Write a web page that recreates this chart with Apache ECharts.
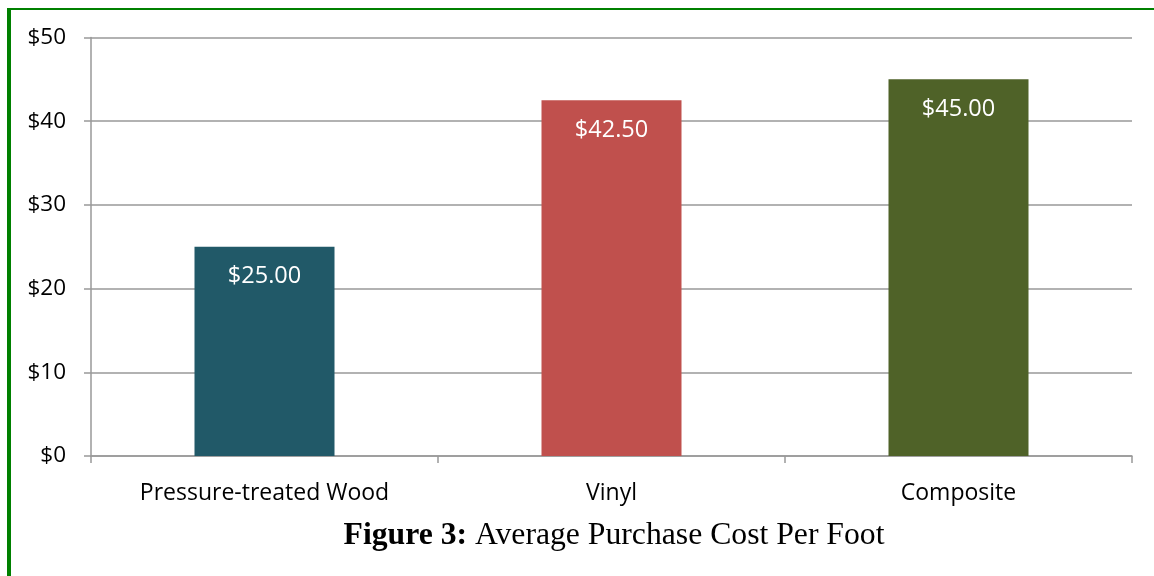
<!DOCTYPE html>
<html>
<head>
<meta charset="utf-8">
<script src="https://cdn.jsdelivr.net/npm/echarts@6/dist/echarts.min.js"></script>
<style>
  html, body { margin: 0; padding: 0; background: #fff; }
  #chart { width: 1154px; height: 576px; }
</style>
</head>
<body>
<div id="chart"></div>
<script>
const categories = ['Pressure-treated Wood', 'Vinyl', 'Composite']
const costs = [25, 42.5, 45]
const barColors = ['#215968', '#C0504D', '#4F6228']
const yTicks = { min: 0, max: 50, interval: 10 }

const chart = echarts.init(document.getElementById('chart'))

const labelFont = '"Open Sans", sans-serif'

chart.setOption({
  backgroundColor: '#fff',
  animation: false,
  title: {
    text: '{b|Figure 3:} Average Purchase Cost Per Foot',
    left: 609,
    textAlign: 'center',
    top: 515,
    textStyle: {
      fontFamily: '"Liberation Serif", serif',
      fontSize: 31.7,
      fontWeight: 'normal',
      color: '#000',
      rich: {
        b: { fontFamily: '"Liberation Serif", serif', fontSize: 31.7, fontWeight: 'bold', color: '#000' }
      }
    }
  },
  grid: { left: 91, right: 22, top: 37.5, bottom: 120, outerBoundsMode: 'none' },
  xAxis: {
    type: 'category',
    data: categories,
    axisLine: { lineStyle: { color: '#999', width: 1.5 } },
    axisTick: { show: true, length: 7, lineStyle: { color: '#999', width: 1.5 } },
    axisLabel: { color: '#000', fontSize: 23, fontFamily: labelFont, margin: 26 }
  },
  yAxis: {
    type: 'value',
    min: yTicks.min,
    max: yTicks.max,
    interval: yTicks.interval,
    axisLine: { show: true, lineStyle: { color: '#999', width: 1.5 } },
    axisTick: { show: true, length: 7, lineStyle: { color: '#999', width: 1.5 } },
    splitLine: { lineStyle: { color: '#999', width: 1.5 } },
    axisLabel: {
      color: '#000', fontSize: 22.5, fontFamily: labelFont, margin: 25,
      formatter: (v) => '$' + v
    }
  },
  series: [
    {
      type: 'bar',
      barWidth: 140,
      data: costs.map((v, i) => ({ value: v, itemStyle: { color: barColors[i] } })),
      label: {
        show: true,
        position: 'insideTop',
        distance: 18,
        color: '#fff',
        fontSize: 23.5,
        fontFamily: labelFont,
        formatter: (p) => '$' + p.value.toFixed(2)
      }
    }
  ],
  graphic: [
    { type: 'rect', shape: { x: 7, y: 8, width: 4, height: 568 }, style: { fill: '#008000' }, silent: true },
    { type: 'rect', shape: { x: 7, y: 8, width: 1147, height: 2 }, style: { fill: '#008000' }, silent: true }
  ]
})
</script>
</body>
</html>
